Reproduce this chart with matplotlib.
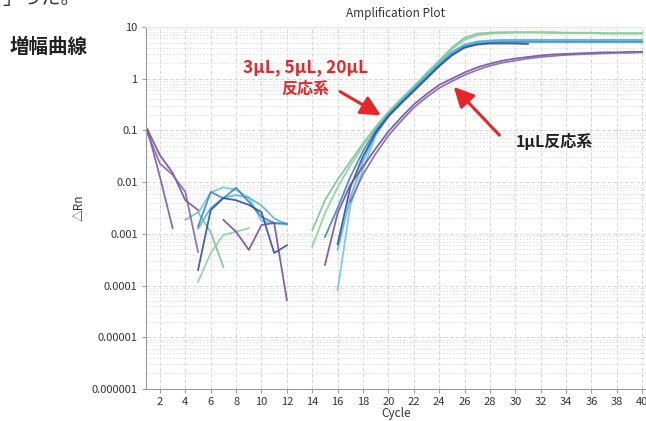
import numpy as np
import matplotlib
matplotlib.use('Agg')
import matplotlib.pyplot as plt
from matplotlib.ticker import FixedLocator, LogLocator, NullFormatter

plt.rcParams['font.family'] = ['Noto Sans CJK JP', 'DejaVu Sans']

nan = np.nan
cycles = np.arange(1, 41)

# log10(ΔRn) per cycle (nan = not shown)
green1_log = [nan, nan, nan, -2.73, -2.58, -2.97, -3.64, nan, nan, nan, nan, nan, nan,
              -2.93, -2.35, -1.95, -1.6, -1.25, -0.93, -0.64, -0.39, -0.15, 0.11, 0.35, 0.6,
              0.79, 0.87, 0.89, 0.9, 0.9, 0.9, 0.9, 0.9, 0.89, 0.89, 0.89, 0.88, 0.88, 0.88, 0.88]
green2_log = [nan, nan, nan, nan, -3.93, -3.37, -3.02, -2.96, -2.89, nan, nan, nan, nan,
              -3.25, -2.6, -2.1, -1.68, -1.3, -0.96, -0.66, -0.41, -0.17, 0.08, 0.32, 0.57,
              0.75, 0.84, 0.87, 0.88, 0.89, 0.89, 0.89, 0.88, 0.88, 0.88, 0.88, 0.87, 0.87, 0.87, 0.87]
cyan1_log = [nan, nan, nan, nan, -2.6, -2.2, -2.1, -2.15, -2.3, -2.75, -2.8, -2.82, nan, nan, nan,
             -4.09, -2.45, -1.75, -1.1, -0.72, -0.45, -0.2, 0.04, 0.28, 0.5, 0.65, 0.71, 0.73,
             0.74, 0.74, 0.74, 0.74, 0.74, 0.74, 0.74, 0.74, 0.74, 0.74, 0.74, 0.74]
cyan2_log = [nan, nan, nan, nan, -2.9, -2.5, -2.3, -2.25, -2.3, -2.45, -2.7, -2.82, nan, nan, nan,
             -3.31, -2.3, -1.6, -1.05, -0.69, -0.43, -0.18, 0.06, 0.3, 0.52, 0.66, 0.72, 0.74,
             0.75, 0.75, 0.75, 0.75, 0.75, 0.75, 0.75, 0.75, 0.75, 0.75, 0.75, 0.75]
blue_log = [nan, nan, nan, nan, -2.86, -2.19, -2.31, -2.11, -2.38, -2.67, -2.79, -2.8, nan, nan,
            -3.06, -2.5, -1.9, -1.4, -1.0, -0.7, -0.46, -0.22, 0.02, 0.26, 0.47, 0.62, 0.68, 0.7,
            0.71, 0.71, 0.71, 0.71, 0.71, 0.71, 0.71, 0.71, 0.71, 0.71, 0.71, 0.71]
darkblue_log = [nan, nan, nan, nan, -3.7, -2.54, -2.31, -2.35, -2.44, -2.58, -3.37, -3.22, nan, nan, nan,
                -3.2, -2.1, -1.5, -1.05, -0.73, -0.48, -0.24, 0.0, 0.24, 0.45, 0.6, 0.66, 0.68,
                0.68, 0.68, 0.67, nan, nan, nan, nan, nan, nan, nan, nan, nan]
purple1_log = [-0.98, -1.48, -1.82, -2.35, -2.54, nan, -2.73, -2.96, -3.31, -2.83, -2.79, -4.28, nan, nan,
               -3.6, -2.6, -2.05, -1.7, -1.35, -1.02, -0.75, -0.5, -0.3, -0.12, 0.0, 0.12, 0.22, 0.29,
               0.35, 0.39, 0.42, 0.45, 0.47, 0.48, 0.49, 0.5, 0.51, 0.51, 0.52, 0.52]
purple2_log = [-1.05, -1.64, -1.86, -2.19, -3.35, nan, nan, nan, nan, nan, nan, nan, nan, nan, nan, nan,
               -2.38, -1.85, -1.45, -1.1, -0.82, -0.56, -0.36, -0.18, -0.05, 0.07, 0.17, 0.25,
               0.31, 0.35, 0.39, 0.42, 0.44, 0.46, 0.47, 0.48, 0.49, 0.5, 0.5, 0.51]
purple3_log = [-0.97, -1.9, -2.89] + [nan] * 37

series = [
    (green1_log, '#78c494'),
    (green2_log, '#8ecf9e'),
    (cyan1_log, '#6cc6e4'),
    (cyan2_log, '#52b6de'),
    (blue_log, '#3d86c8'),
    (darkblue_log, '#2f4f9e'),
    (purple1_log, '#7350a2'),
    (purple2_log, '#8766b0'),
    (purple3_log, '#7d5aa8'),
]

ytick_vals = [1e-6, 1e-5, 1e-4, 1e-3, 1e-2, 1e-1, 1, 10]
ytick_labels = ['0.000001', '0.00001', '0.0001', '0.001', '0.01', '0.1', '1', '10']
xtick_vals = list(range(2, 41, 2))

fig = plt.figure(figsize=(6.46, 4.21), dpi=100)
ax = fig.add_axes([146 / 646, 1 - 389 / 421, 500 / 646, 362 / 421])

for vals, col in series:
    ax.plot(cycles, 10 ** np.array(vals, dtype=float), color=col, lw=1.3, alpha=0.9)

ax.set_yscale('log')
ax.set_ylim(1e-6, 10)
ax.set_xlim(0.9, 40.3)
ax.yaxis.set_major_locator(FixedLocator(ytick_vals))
ax.set_yticklabels(ytick_labels)
ax.yaxis.set_minor_locator(LogLocator(base=10, subs=np.arange(2, 10)))
ax.yaxis.set_minor_formatter(NullFormatter())
ax.set_xticks(xtick_vals)

ax.grid(which='major', axis='both', color='#d8d8d8', ls=(0, (4, 2)), lw=0.7)
ax.grid(which='minor', axis='y', color='#dedede', ls=(0, (2, 2)), lw=0.6)
ax.set_axisbelow(True)

for s in ['left', 'bottom']:
    ax.spines[s].set_color('#9a9a9a')
for s in ['top', 'right']:
    ax.spines[s].set_color('#e4e4e4')
ax.tick_params(which='major', length=3, color='#9a9a9a', labelsize=8, labelcolor='#333333', pad=3)
ax.tick_params(which='minor', length=0)

ax.set_title('Amplification Plot', fontsize=8.5, color='#333333', pad=7)
ax.set_xlabel('Cycle', fontsize=8.5, color='#333333', labelpad=0)
ax.set_ylabel('△Rn', fontsize=8.5, color='#333333', labelpad=4)

red = '#e8262a'
ax.text(13.5, 1.68, '3μL, 5μL, 20μL', color=red, fontsize=12.5, fontweight='bold',
        ha='center', va='center')
ax.text(13.5, 0.63, '反応系', color=red, fontsize=11.5, fontweight='bold',
        ha='center', va='center')
ax.annotate('', xy=(19.6, 0.184), xytext=(16.0, 0.6),
            arrowprops=dict(arrowstyle='-|>,head_length=1.2,head_width=0.6', color=red, lw=2.2))
ax.text(33.1, 0.06, '1μL反応系', color='#222222', fontsize=11.5, fontweight='bold',
        ha='center', va='center')
ax.annotate('', xy=(25.0, 0.76), xytext=(28.9, 0.074),
            arrowprops=dict(arrowstyle='-|>,head_length=1.2,head_width=0.6', color=red, lw=2.2))

fig.text(10 / 646, 1 - 47 / 421, '増幅曲線', fontsize=14, fontweight='bold',
         color='#222222', ha='left', va='center')
fig.text(2 / 646, 1 + 1 / 421, '」った。', fontsize=14, color='#333333', ha='left', va='center')

fig.savefig('out.png', dpi=100)
